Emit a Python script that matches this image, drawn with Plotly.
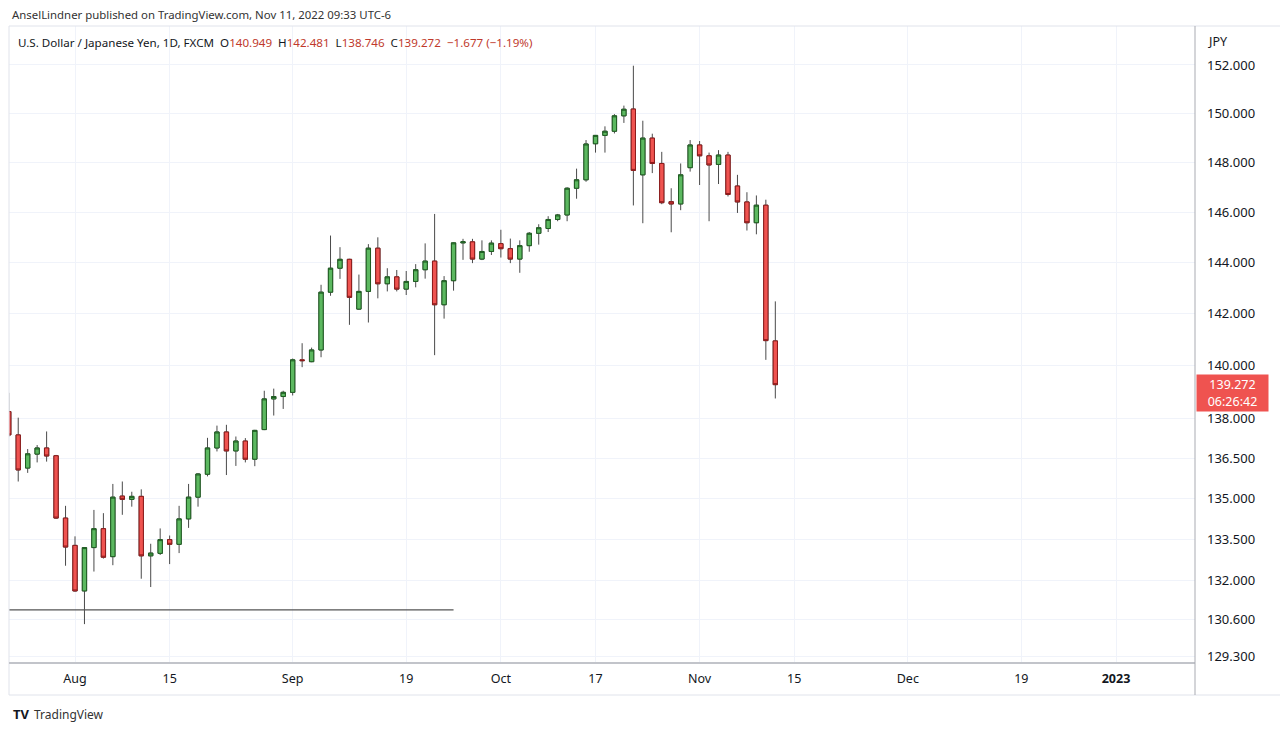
import math
import plotly.graph_objects as go

# ---------------- data ----------------
dates = [
    "2022-07-21", "2022-07-22", "2022-07-25", "2022-07-26", "2022-07-27", "2022-07-28", "2022-07-29",
    "2022-08-01", "2022-08-02", "2022-08-03", "2022-08-04", "2022-08-05",
    "2022-08-08", "2022-08-09", "2022-08-10", "2022-08-11", "2022-08-12",
    "2022-08-15", "2022-08-16", "2022-08-17", "2022-08-18", "2022-08-19",
    "2022-08-22", "2022-08-23", "2022-08-24", "2022-08-25", "2022-08-26",
    "2022-08-29", "2022-08-30", "2022-08-31", "2022-09-01", "2022-09-02",
    "2022-09-05", "2022-09-06", "2022-09-07", "2022-09-08", "2022-09-09",
    "2022-09-12", "2022-09-13", "2022-09-14", "2022-09-15", "2022-09-16",
    "2022-09-19", "2022-09-20", "2022-09-21", "2022-09-22", "2022-09-23",
    "2022-09-26", "2022-09-27", "2022-09-28", "2022-09-29", "2022-09-30",
    "2022-10-03", "2022-10-04", "2022-10-05", "2022-10-06", "2022-10-07",
    "2022-10-10", "2022-10-11", "2022-10-12", "2022-10-13", "2022-10-14",
    "2022-10-17", "2022-10-18", "2022-10-19", "2022-10-20", "2022-10-21",
    "2022-10-24", "2022-10-25", "2022-10-26", "2022-10-27", "2022-10-28",
    "2022-10-31", "2022-11-01", "2022-11-02", "2022-11-03", "2022-11-04",
    "2022-11-07", "2022-11-08", "2022-11-09", "2022-11-10", "2022-11-11",
]
opens = [
    138.25, 137.37, 136.13, 136.65, 136.88, 136.59, 134.28,
    133.28, 131.63, 133.20, 133.89, 132.87,
    135.09, 134.97, 135.08, 132.90, 132.99,
    133.49, 133.32, 134.25, 135.05, 135.90,
    136.88, 137.48, 136.77, 137.14, 136.46,
    137.57, 138.73, 138.82, 138.98, 140.22,
    140.15, 140.60, 142.84, 143.78, 144.13,
    142.18, 142.87, 144.57, 143.17, 143.44,
    142.96, 143.26, 143.72, 144.06, 142.35,
    143.29, 144.78, 144.82, 144.14, 144.44,
    144.75, 144.55, 144.14, 144.67, 145.16,
    145.35, 145.71, 145.89, 146.96, 147.30,
    148.76, 149.10, 149.27, 149.90, 150.18,
    147.50, 148.99, 147.96, 146.42, 146.33,
    147.79, 148.71, 148.27, 147.92, 148.30,
    147.05, 146.41, 145.58, 146.28, 140.949,
]
highs = [
    138.96, 138.02, 136.84, 136.99, 137.50, 136.62, 134.73,
    133.61, 133.22, 134.58, 134.46, 135.54,
    135.63, 135.25, 135.34, 133.34, 133.90,
    133.64, 134.73, 135.54, 135.94, 137.26,
    137.72, 137.75, 137.31, 137.25, 137.56,
    139.04, 139.12, 139.04, 140.27, 140.86,
    140.69, 143.13, 145.07, 144.61, 144.15,
    143.53, 144.73, 145.00, 143.78, 143.71,
    143.67, 143.94, 144.76, 145.93, 143.47,
    144.80, 144.94, 144.94, 144.88, 144.88,
    145.30, 144.95, 144.88, 145.21, 145.52,
    145.84, 145.93, 147.00, 147.75, 148.91,
    149.10, 149.47, 149.97, 150.32, 151.97,
    149.70, 149.17, 148.43, 146.96, 147.96,
    148.91, 148.87, 148.40, 148.50, 148.43,
    147.50, 146.80, 146.67, 146.50, 142.481,
]
lows = [
    137.30, 135.63, 135.95, 136.34, 136.37, 134.25, 132.54,
    131.60, 130.44, 132.33, 132.80, 132.56,
    134.40, 134.70, 132.07, 131.77, 132.93,
    132.60, 133.00, 133.92, 134.70, 135.82,
    136.75, 135.87, 136.21, 136.34, 136.20,
    137.55, 138.10, 138.35, 138.86, 139.94,
    140.13, 140.32, 142.70, 143.36, 141.57,
    142.15, 141.66, 142.60, 142.87, 142.87,
    142.73, 143.03, 143.37, 140.40, 141.81,
    142.90, 144.11, 143.98, 144.10, 144.30,
    144.20, 143.98, 143.60, 144.43, 144.71,
    145.21, 145.64, 145.64, 146.54, 147.22,
    148.40, 148.40, 149.18, 149.61, 146.27,
    145.56, 147.57, 146.32, 145.20, 146.08,
    147.63, 147.09, 145.64, 147.13, 146.63,
    145.97, 145.27, 145.12, 140.22, 138.746,
]
closes = [
    137.37, 136.06, 136.66, 136.88, 136.58, 134.28, 133.22,
    131.63, 133.20, 133.89, 132.85, 135.05,
    134.97, 135.08, 132.90, 133.00, 133.49,
    133.32, 134.25, 135.05, 135.91, 136.88,
    137.48, 136.77, 137.14, 136.46, 137.54,
    138.73, 138.82, 138.98, 140.22, 140.19,
    140.60, 142.84, 143.78, 144.13, 142.64,
    142.87, 144.57, 143.17, 143.44, 142.96,
    143.26, 143.72, 144.06, 142.35, 143.29,
    144.78, 144.82, 144.14, 144.44, 144.77,
    144.55, 144.14, 144.67, 145.16, 145.38,
    145.71, 145.89, 146.96, 147.30, 148.75,
    149.10, 149.27, 149.90, 150.17, 147.68,
    148.99, 147.96, 146.38, 146.33, 147.50,
    148.71, 148.27, 147.90, 148.30, 146.71,
    146.41, 145.58, 146.28, 140.96, 139.272,
]

support_level = 130.95
support_dates = ["2022-07-18", "2022-09-26"]

price_ticks = [129.3, 130.6, 132.0, 133.5, 135.0, 136.5, 138.0, 140.0, 142.0, 144.0, 146.0, 148.0, 150.0, 152.0]
date_ticks = ["2022-08-01", "2022-08-15", "2022-09-01", "2022-09-19", "2022-10-03", "2022-10-17",
              "2022-11-01", "2022-11-15", "2022-12-01", "2022-12-19", "2023-01-02"]
date_tick_labels = ["Aug", "15", "Sep", "19", "Oct", "17", "Nov", "15", "Dec", "19", "<b>2023</b>"]

header_text = "AnselLindner published on TradingView.com, Nov 11, 2022 09:33 UTC-6"
symbol_text = "U.S. Dollar / Japanese Yen, 1D, FXCM"
last_open, last_high, last_low, last_close = 140.949, 142.481, 138.746, 139.272
change, change_pct = -1.677, -1.19
countdown = "06:26:42"

# ---------------- layout geometry (pixels) ----------------
W, H = 1280, 731
PL, PR, PT, PB = 9, 1195, 26, 663


def xp(px):
    return (px - PL) / (PR - PL)


def yp(py):
    return (PB - py) / (PB - PT)


UP_FILL, UP_LINE = "#5cb860", "#1f5e22"
DN_FILL, DN_LINE = "#ef5350", "#8e1b1b"
WICK = "#4a4a4a"
RED_TXT = "#c0392b"
TXT = "#131722"
FONT = "Noto Sans"

fig = go.Figure()

# wicks (full high-low range)
fig.add_trace(go.Candlestick(
    x=dates, open=opens, high=highs, low=lows, close=closes,
    increasing=dict(fillcolor=UP_FILL, line=dict(color=WICK, width=1)),
    decreasing=dict(fillcolor=DN_FILL, line=dict(color=WICK, width=1)),
    whiskerwidth=0, hoverinfo="skip",
))
# bodies with dark borders drawn over the wicks
body_hi = [max(o, c) for o, c in zip(opens, closes)]
body_lo = [min(o, c) for o, c in zip(opens, closes)]
fig.add_trace(go.Candlestick(
    x=dates, open=opens, high=body_hi, low=body_lo, close=closes,
    increasing=dict(fillcolor=UP_FILL, line=dict(color=UP_LINE, width=1)),
    decreasing=dict(fillcolor=DN_FILL, line=dict(color=DN_LINE, width=1)),
    whiskerwidth=0, hoverinfo="skip",
))

# horizontal support line
fig.add_trace(go.Scatter(
    x=support_dates, y=[support_level, support_level], mode="lines",
    line=dict(color="#555555", width=1.3), hoverinfo="skip",
))

fig.update_layout(
    width=W, height=H,
    margin=dict(l=PL, r=W - PR, t=PT, b=H - PB, pad=0),
    paper_bgcolor="white", plot_bgcolor="white",
    showlegend=False,
    font=dict(family=FONT, size=12, color=TXT),
    boxgap=0.35,
)

fig.update_xaxes(
    type="date",
    range=["2022-07-21 00:37", "2023-01-12 08:20"],
    rangebreaks=[dict(bounds=["sat", "mon"])],
    rangeslider=dict(visible=False),
    tickmode="array", tickvals=date_ticks, ticktext=date_tick_labels,
    showgrid=True, gridcolor="#f0f3fa", gridwidth=1,
    zeroline=False, showline=False, ticks="",
    tickfont=dict(family=FONT, size=12.5, color=TXT),
    ticklabelstandoff=6,
)
fig.update_yaxes(
    type="log",
    range=[math.log10(129.06), math.log10(153.63)],
    side="right",
    tickmode="array", tickvals=price_ticks, ticktext=[f"{v:.3f}" for v in price_ticks],
    showgrid=True, gridcolor="#f0f3fa", gridwidth=1,
    zeroline=False, showline=False, ticks="",
    tickfont=dict(family=FONT, size=13, color=TXT),
    ticklabelstandoff=11,
)

# frame lines
border = "#e0e3eb"
shapes = [
    dict(type="line", xref="paper", yref="paper", x0=xp(PL), x1=xp(W), y0=yp(PT), y1=yp(PT),
         line=dict(color=border, width=1)),
    dict(type="line", xref="paper", yref="paper", x0=xp(PL), x1=xp(PL), y0=yp(PT), y1=yp(695),
         line=dict(color=border, width=1)),
    dict(type="line", xref="paper", yref="paper", x0=xp(PL), x1=xp(W), y0=yp(695), y1=yp(695),
         line=dict(color=border, width=1)),
    dict(type="line", xref="paper", yref="paper", x0=xp(PL), x1=xp(PR), y0=yp(PB), y1=yp(PB),
         line=dict(color="#c2c4ca", width=2)),
    dict(type="line", xref="paper", yref="paper", x0=xp(PR), x1=xp(PR), y0=yp(PT), y1=yp(695),
         line=dict(color="#a9abb2", width=1)),
]
fig.update_layout(shapes=shapes)

val = lambda v: f"<span style='color:{RED_TXT}'>{v}</span>"
legend_line = (
    f"{symbol_text}  O{val(f'{last_open:.3f}')}  H{val(f'{last_high:.3f}')}  "
    f"L{val(f'{last_low:.3f}')}  C{val(f'{last_close:.3f}')}  "
    + val(f"\u2212{abs(change):.3f} (\u2212{abs(change_pct):.2f}%)")
)

annotations = [
    dict(text=header_text, x=xp(10), y=yp(15), xref="paper", yref="paper",
         xanchor="left", yanchor="middle", showarrow=False,
         font=dict(family=FONT, size=11.4, color="#333333")),
    dict(text=legend_line, x=xp(16), y=yp(42), xref="paper", yref="paper",
         xanchor="left", yanchor="middle", showarrow=False,
         font=dict(family=FONT, size=11.6, color=TXT)),
    dict(text="JPY", x=xp(1206), y=yp(41), xref="paper", yref="paper",
         xanchor="left", yanchor="middle", showarrow=False,
         font=dict(family=FONT, size=12.5, color=TXT)),
    dict(text=f"{last_close:.3f}<br>{countdown}", x=xp(1232.5), y=yp(393), xref="paper", yref="paper",
         xanchor="center", yanchor="middle", showarrow=False, align="center",
         bgcolor="#ef5350", width=71, height=36, borderpad=0,
         font=dict(family=FONT, size=12.5, color="white")),
    dict(text="<b>TV</b>", x=xp(11), y=yp(714), xref="paper", yref="paper",
         xanchor="left", yanchor="middle", showarrow=False,
         font=dict(family=FONT, size=13, color="#131722")),
    dict(text="TradingView", x=xp(32), y=yp(714), xref="paper", yref="paper",
         xanchor="left", yanchor="middle", showarrow=False,
         font=dict(family=FONT, size=12, color="#333333")),
]
fig.update_layout(annotations=annotations)

fig.write_html(
    "out.html",
    config={"displayModeBar": False},
    post_script="document.body.style.margin='0';document.body.style.overflow='hidden';",
)
